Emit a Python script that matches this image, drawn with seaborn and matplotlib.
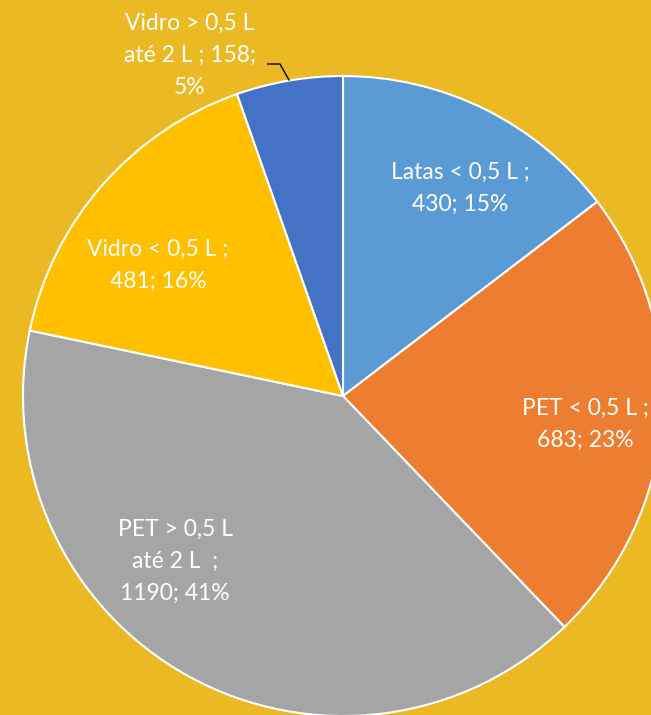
"""
Pie chart of beverage packaging counts on a golden background.
"""

import matplotlib

matplotlib.use("Agg")
import matplotlib.pyplot as plt
import numpy as np
import seaborn as sns

categories = [
    "Latas < 0,5 L ;",
    "PET < 0,5 L ;",
    "PET > 0,5 L\naté 2 L  ;",
    "Vidro < 0,5 L ;",
    "Vidro > 0,5 L\naté 2 L ;",
]
values = [430, 683, 1190, 481, 158]
percent_labels = ["15%", "23%", "41%", "16%", "5%"]

colors = ["#5B9BD5", "#ED7D31", "#A5A5A5", "#FFC000", "#4472C4"]
background = "#EBB923"

W, H = 651, 715
center = (343, H - 396)
radius = 320

# label centres in pixel coords (top-down)
label_pos = [(460, 188), (585, 424), (175, 561), (158, 265), (190, 55)]


def label_text(i):
    # the small slice wraps its value onto the category line
    if i == 4:
        return f"{categories[i]} {values[i]};\n{percent_labels[i]}"
    return f"{categories[i]}\n{values[i]}; {percent_labels[i]}"


sns.set_theme(style="white")
plt.rcParams["font.family"] = ["Lato", "DejaVu Sans"]

fig = plt.figure(figsize=(W / 100, H / 100), dpi=100)
fig.patch.set_facecolor(background)
ax = fig.add_axes([0, 0, 1, 1])
ax.set_facecolor(background)

wedges, _ = ax.pie(
    values,
    colors=colors,
    startangle=90,
    counterclock=False,
    center=center,
    radius=radius,
    wedgeprops=dict(edgecolor="white", linewidth=1.5),
)
ax.set_xlim(0, W)
ax.set_ylim(0, H)
ax.axis("off")

for i, (x, y) in enumerate(label_pos):
    ax.text(x, H - y, label_text(i), ha="center", va="center", color="white",
            fontsize=16.5, linespacing=1.65)

# leader line for the small slice
w = wedges[4]
mid = np.deg2rad((w.theta1 + w.theta2) / 2)
ex = center[0] + radius * np.cos(mid)
ey = center[1] + radius * np.sin(mid)
ax.plot([267, 280, ex], [H - 64, H - 64, ey], color="black", lw=1, solid_capstyle="butt")

fig.savefig("out.png", dpi=100, facecolor=background)
